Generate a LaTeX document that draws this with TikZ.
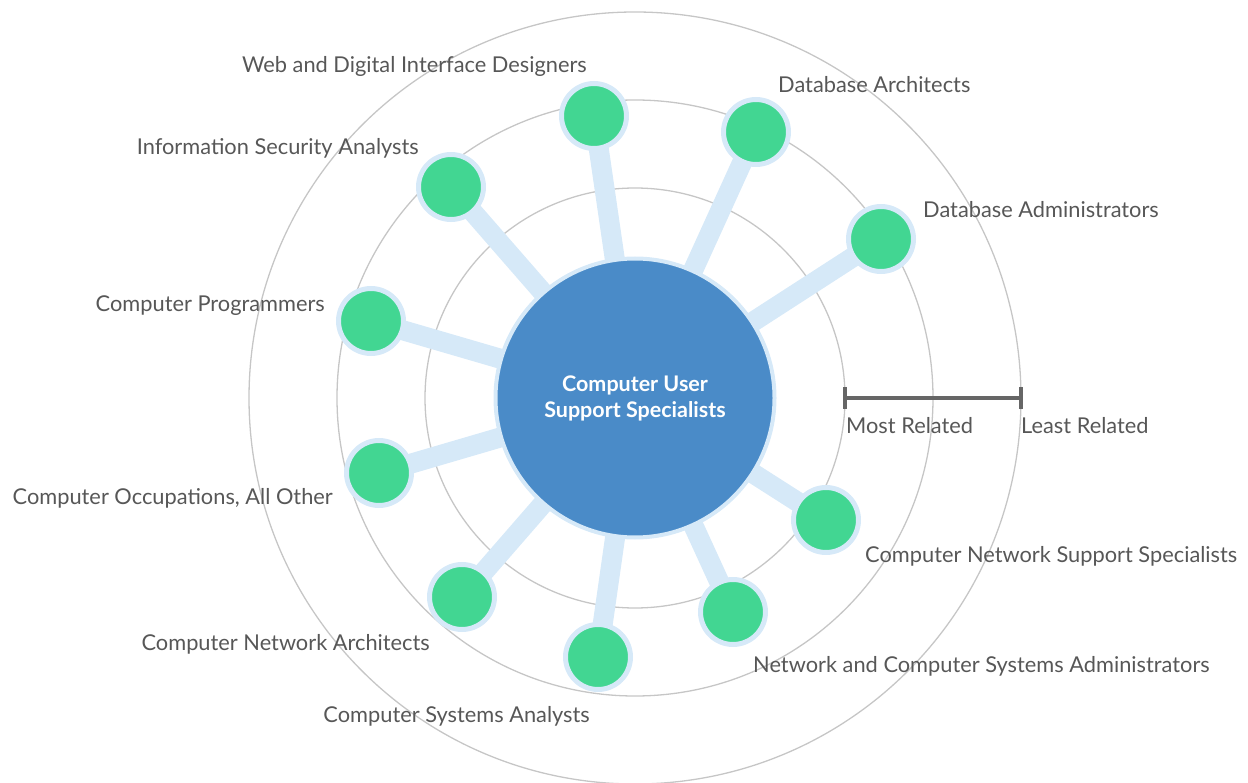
\documentclass[tikz,border=0pt]{standalone}
\usepackage{fontspec}
\setmainfont{Lato}
\usepackage{tikz}
\usetikzlibrary{positioning,backgrounds}
\definecolor{HubBlue}{HTML}{4A8BC8}
\definecolor{HaloBlue}{HTML}{D6E9F8}
\definecolor{LeafGreen}{HTML}{42D692}
\definecolor{RingGray}{HTML}{C6C6C6}
\definecolor{LabelGray}{HTML}{575757}
\definecolor{BarGray}{HTML}{666666}

\begin{document}
\begin{tikzpicture}[x=1pt, y=-1pt,
                    hub/.style={circle, fill=HubBlue, draw=HaloBlue, line width=4pt,
                                minimum size=279pt, inner sep=0pt, align=center, text=white,
                                font=\fontsize{21.5}{26}\selectfont\bfseries},
                    leaf/.style={circle, fill=LeafGreen, draw=HaloBlue, line width=5pt,
                                 minimum size=65pt, inner sep=0pt},
                    spoke/.style={draw=HaloBlue, line width=20pt},
                    ring/.style={draw=RingGray, line width=1.3pt},
                    lbl/.style={inner sep=0pt, text=LabelGray, font=\fontsize{21.8}{26}\selectfont},
                    scalebar/.style={draw=BarGray, line width=4pt}]
\useasboundingbox (0,0) rectangle (1248,783);
\node[hub] (hub) at (635,398) {Computer User\\ Support Specialists};
\node[leaf] (webdes) at (594,116) {};
\node[leaf] (dbarch) at (756,132) {};
\node[leaf] (dbadmin) at (881,239) {};
\node[leaf] (infosec) at (451,187) {};
\node[leaf] (prog) at (371,321) {};
\node[leaf] (occup) at (379,473) {};
\node[leaf] (netarch) at (462,597) {};
\node[leaf] (sysanal) at (598,657) {};
\node[leaf] (netadmin) at (733,612) {};
\node[leaf] (support) at (826,520) {};
\node[lbl, anchor=base east] (t-webdes) at (587,73) {Web and Digital Interface Designers};
\node[lbl, anchor=base west] (t-dbarch) at (778,93) {Database Architects};
\node[lbl, anchor=base west] (t-dbadmin) at (923,218) {Database Administrators};
\node[lbl, anchor=base east] (t-infosec) at (419,155) {Information Security Analysts};
\node[lbl, anchor=base east] (t-prog) at (325,312) {Computer Programmers};
\node[lbl, anchor=base east] (t-occup) at (333,504) {Computer Occupations, All Other};
\node[lbl, anchor=base east] (t-netarch) at (430,650) {Computer Network Architects};
\node[lbl, anchor=base east] (t-sysanal) at (590,722) {Computer Systems Analysts};
\node[lbl, anchor=base west] (t-netadmin) at (753,672) {Network and Computer Systems Administrators};
\node[lbl, anchor=base west] (t-support) at (865,562) {Computer Network Support Specialists};
\coordinate (most) at (845,398);
\coordinate (least) at (1021,398);
\draw[scalebar] (most) -- (least);
\draw[scalebar] ([yshift=11pt]most) -- ([yshift=-11pt]most);
\draw[scalebar] ([yshift=11pt]least) -- ([yshift=-11pt]least);
\node[lbl, anchor=base west] (t-most) at (846,434) {Most Related};
\node[lbl, anchor=base west] (t-least) at (1021,434) {Least Related};
\begin{scope}[on background layer]
\foreach \r in {210,298,386}
  \draw[ring] (hub.center) circle (\r pt);
\foreach \n in {webdes,dbarch,dbadmin,infosec,prog,occup,netarch,sysanal,netadmin,support}
  \draw[spoke] (hub.center) -- (\n.center);
\end{scope}
\end{tikzpicture}
\end{document}
